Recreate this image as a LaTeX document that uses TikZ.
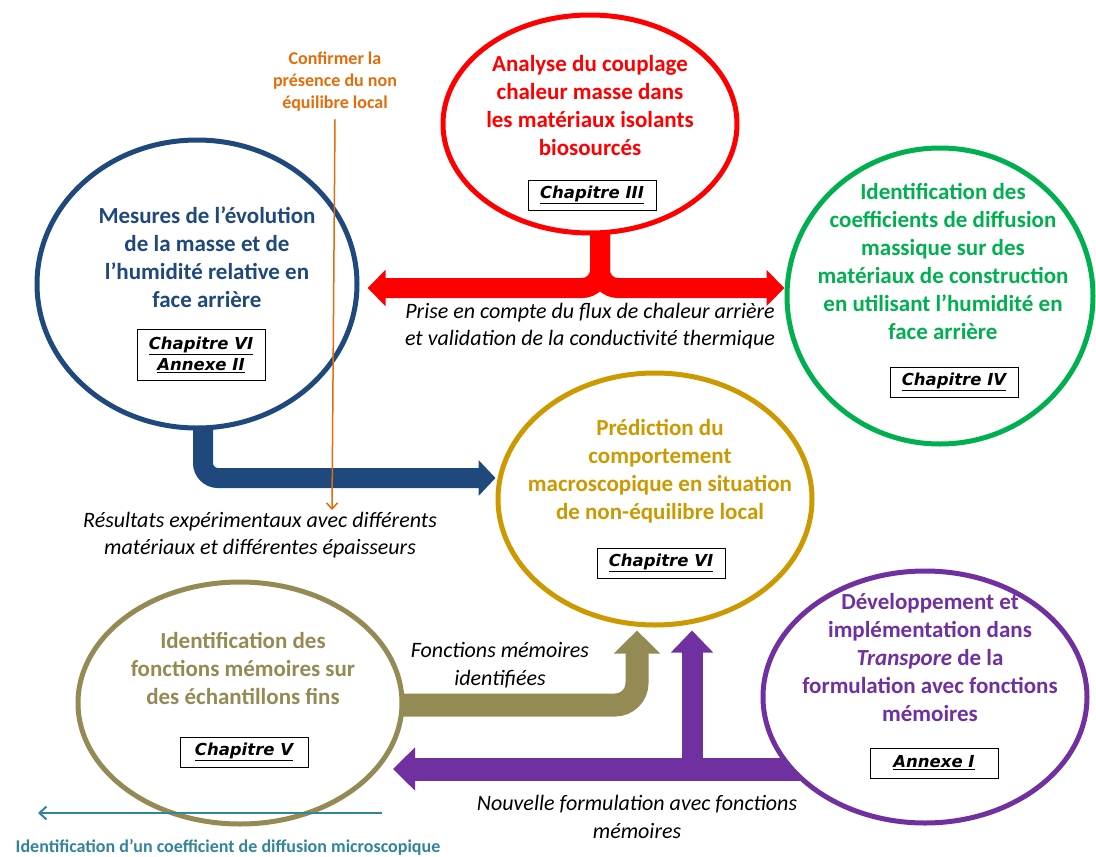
\documentclass[tikz,border=0pt]{standalone}
\usepackage{fontspec}
\setmainfont{Carlito}
\newfontfamily\chapfont{DejaVu Sans}
\usetikzlibrary{positioning,arrows.meta,shapes.geometric,backgrounds}

\definecolor{mesbleu}{HTML}{1F497D}
\definecolor{couprouge}{HTML}{FF0000}
\definecolor{coefvert}{HTML}{00B050}
\definecolor{predor}{HTML}{CC9900}
\definecolor{fonctolive}{HTML}{948A54}
\definecolor{devviolet}{HTML}{7030A0}
\definecolor{confirmorange}{HTML}{E46C0A}
\definecolor{microteal}{HTML}{31849B}

\begin{document}
\begin{tikzpicture}[
  x=1pt, y=-1pt,
  bulle/.style={
    ellipse, draw, line width=5pt,
    fill=white, inner sep=0pt
  },
  bulletxt/.style={
    font=\fontsize{23}{28}\selectfont\bfseries,
    align=center
  },
  chapitre/.style={
    draw, line width=1pt, fill=white,
    minimum width=128pt, minimum height=30pt,
    inner sep=2pt, align=center,
    font=\chapfont\fontsize{16.5}{21}\selectfont\bfseries\itshape
  },
  legende/.style={
    font=\fontsize{22}{27.5}\selectfont\itshape,
    align=center
  },
  flux/.style={line width=#1}
]
\useasboundingbox (0,0) rectangle (1096,857);

% --- Bulles ---
\node[bulle, draw=mesbleu, minimum width=320pt, minimum height=288pt] (mesures) at (197,284) {};
\node[bulle, draw=couprouge, minimum width=294pt, minimum height=218pt] (couplage) at (590,124) {};
\node[bulle, draw=coefvert, minimum width=306pt, minimum height=296pt] (coefficients) at (940,296) {};
\node[bulle, draw=predor, minimum width=314pt, minimum height=252pt] (prediction) at (655,499) {};
\node[bulle, draw=fonctolive, minimum width=324pt, minimum height=242pt] (fonctions) at (240,703) {};
\node[bulle, draw=devviolet, minimum width=324pt, minimum height=252pt] (developpement) at (925,697) {};

% --- Textes des bulles ---
\node[bulletxt, text=mesbleu] (mesurestxt) at (207,257)
  {Mesures de l’évolution\\de la masse et de\\l’humidité relative en\\face arrière};
\node[chapitre, minimum height=51pt] (mesureschap) at (201,355) {\underline{Chapitre VI}\\\underline{Annexe II}};

\node[bulletxt, text=couprouge] (couplagetxt) at (590,106)
  {Analyse du couplage\\chaleur masse dans\\les matériaux isolants\\biosourcés};
\node[chapitre] (couplagechap) at (592,195) {\underline{Chapitre III}};

\node[bulletxt, text=coefvert] (coefficientstxt) at (943,261)
  {Identification des\\coefficients de diffusion\\massique sur des\\matériaux de construction\\en utilisant l’humidité en\\face arrière};
\node[chapitre] (coefficientschap) at (954,382) {\underline{Chapitre IV}};

\node[bulletxt, text=predor] (predictiontxt) at (660,471)
  {Prédiction du\\comportement\\macroscopique en situation\\de non-équilibre local};
\node[chapitre] (predictionchap) at (661,563) {\underline{Chapitre VI}};

\node[bulletxt, text=fonctolive] (fonctionstxt) at (243,668)
  {Identification des\\fonctions mémoires sur\\des échantillons fins};
\node[chapitre] (fonctionschap) at (244,752) {\underline{Chapitre V}};

\node[bulletxt, text=devviolet] (developpementtxt) at (930,658)
  {Développement et\\implémentation dans\\\textit{Transpore} de la\\formulation avec fonctions\\mémoires};
\node[chapitre] (developpementchap) at (934,763) {\underline{Annexe I}};

% --- Legendes ---
\node[legende] (priseencompte) at (590,326)
  {Prise en compte du flux de chaleur arrière\\et validation de la conductivité thermique};
\node[legende] (resultats) at (260,535)
  {Résultats expérimentaux avec différents\\matériaux et différentes épaisseurs};
\node[legende] (fonctionsid) at (500,665) {Fonctions mémoires\\identifiées};
\node[legende] (nouvelle) at (637,817) {Nouvelle formulation avec fonctions\\mémoires};

\node[font=\fontsize{18}{22}\selectfont\bfseries, text=confirmorange, align=center] (confirmer) at (335,82)
  {Confirmer la\\présence du non\\équilibre local};
\node[font=\fontsize{18}{22}\selectfont\bfseries, text=microteal] (microscopique) at (228,847)
  {Identification d’un coefficient de diffusion microscopique};

\coordinate (confirmerfin) at (332,510);
\coordinate (microdepart) at (382,813);
\coordinate (microfin) at (38,813);
\coordinate (nouvellefin) at (393,769);
\coordinate (nouvellejonction) at (692,769);

% --- Fleches epaisses (sous les bulles) ---
\begin{scope}[on background layer]
\draw[flux=20pt, mesbleu, rounded corners=15pt, -{Triangle[width=35pt,length=17pt]}]
  ([xshift=6pt]mesures.center) |- ([yshift=21pt]prediction.west);
\draw[flux=20pt, couprouge, rounded corners=18pt, -{Triangle[width=35pt,length=18pt]}]
  ([xshift=10pt]couplage.center) |- ([xshift=8pt,yshift=-4pt]mesures.east);
\draw[flux=20pt, couprouge, rounded corners=18pt, -{Triangle[width=35pt,length=18pt]}]
  ([xshift=10pt]couplage.center) |- ([yshift=8pt]coefficients.west);
\draw[flux=23pt, fonctolive, rounded corners=22pt, -{Triangle[width=45pt,length=23pt]}]
  ([yshift=-2pt]fonctions.center) -| ([xshift=-18pt,yshift=-3pt]prediction.south);
\draw[flux=23pt, devviolet, -{Triangle[width=42pt,length=22pt]}]
  ([yshift=-72pt]developpement.center) -- (nouvellefin);
\draw[flux=21pt, devviolet, -{Triangle[width=41pt,length=22pt]}]
  (nouvellejonction) -- ([xshift=37pt,yshift=-3pt]prediction.south);
\end{scope}

% --- Fleches fines ---
\draw[confirmorange, line width=1.5pt, -{Straight Barb[length=6pt,width=11pt]}]
  ([yshift=-4pt]confirmer.south) -- (confirmerfin);
\draw[microteal, line width=2pt, -{Straight Barb[length=7pt,width=13pt]}]
  (microdepart) -- (microfin);

\end{tikzpicture}
\end{document}
